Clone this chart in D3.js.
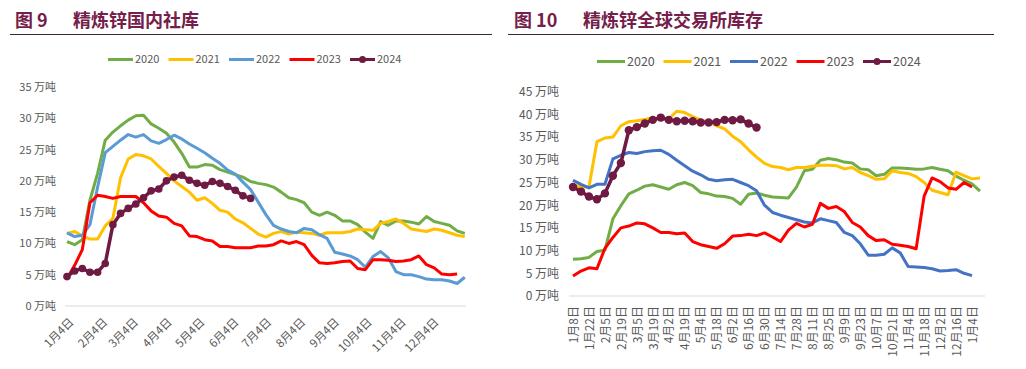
<!DOCTYPE html>
<html><head><meta charset="utf-8">
<script src="https://cdn.jsdelivr.net/npm/d3@7"></script>
<style>
body{margin:0;background:#fff;}
svg{display:block;}
text{font-family:"Noto Sans CJK SC","Microsoft YaHei",sans-serif;}
</style></head><body>
<svg id="c" width="1026" height="369"></svg>
<script>
// ---------- shared ----------
const years = ["2020","2021","2022","2023","2024"];
const yTickUnit = " 万吨";

// ---------- left chart: 精炼锌国内社库 (weekly, starting day-of-year 3, step 7 days) ----------
const leftTitleNo = "图 9";
const leftTitle = "精炼锌国内社库";
const leftTickLabels = ["1月4日","2月4日","3月4日","4月4日","5月4日","6月4日","7月4日","8月4日","9月4日","10月4日","11月4日","12月4日"];
const leftTickDays = [3,34,62,93,123,154,184,215,246,276,307,337];
const leftYTicks = [0,5,10,15,20,25,30,35];
const leftStartDay = 3, leftStepDays = 7;
const left2020 = [10.3,9.8,10.6,16.9,21.2,26.5,27.8,28.8,29.7,30.4,30.5,29.1,28.4,27.6,26.2,24.4,22.2,22.2,22.6,22.5,21.8,21.4,21.0,20.6,19.9,19.6,19.4,19.0,18.2,17.3,17.0,16.5,15.0,14.5,15.0,14.5,13.6,13.6,13.0,11.8,10.8,13.5,12.9,13.6,13.6,13.4,13.1,14.3,13.5,13.2,12.9,12.0,11.6];
const left2021 = [11.6,11.9,11.2,10.7,10.7,12.8,14.0,20.5,23.5,24.2,24.0,23.5,22.3,21.2,20.0,19.1,18.2,16.9,17.3,16.4,15.3,15.0,13.9,13.3,12.4,11.5,11.0,11.6,11.9,11.5,11.8,11.7,11.6,11.3,11.7,11.7,11.7,11.9,12.3,12.2,12.1,13.2,13.5,13.9,13.2,12.3,12.1,11.9,12.3,12.1,11.7,11.3,11.1];
const left2022 = [11.7,11.1,11.3,13.0,19.0,24.5,25.5,26.5,27.4,27.0,27.4,26.4,26.0,26.6,27.3,26.7,25.9,25.2,24.5,23.6,22.8,21.7,21.1,19.8,18.6,16.6,14.6,12.9,12.3,11.9,11.7,12.4,12.2,11.4,10.8,8.6,8.3,8.0,7.4,6.2,7.9,8.7,7.7,5.5,5.0,5.0,4.7,4.3,4.2,4.2,4.0,3.6,4.6];
const left2023 = [4.4,6.5,9.0,16.5,17.7,17.5,17.2,17.5,17.5,17.5,16.5,15.2,14.4,14.2,13.2,12.8,11.2,11.1,10.6,10.4,9.5,9.5,9.3,9.3,9.3,9.6,9.6,9.8,10.4,10.0,10.3,9.8,8.1,6.9,6.8,6.9,7.1,7.2,6.0,5.8,7.4,7.4,7.3,7.1,7.2,7.4,8.0,6.6,6.1,5.1,5.0,5.1];
const left2024 = [4.7,5.6,6.0,5.4,5.4,6.8,13.0,14.8,15.6,16.3,17.3,18.4,18.7,20.0,20.6,20.9,20.1,19.6,19.3,19.9,19.6,19.1,18.5,17.6,17.2];

// ---------- right chart: 精炼锌全球交易所库存 (every 5 trading days) ----------
const rightTitleNo = "图 10";
const rightTitle = "精炼锌全球交易所库存";
const rightTickLabels = ["1月8日","1月22日","2月5日","2月19日","3月5日","3月19日","4月2日","4月19日","5月4日","5月18日","6月2日","6月16日","6月30日","7月14日","7月28日","8月11日","8月25日","9月9日","9月23日","10月7日","10月21日","11月4日","11月18日","12月2日","12月16日","1月4日"];
const rightTickStep = 10;   // trading days between labels
const rightDataStep = 5;    // trading days between data points
const rightYTicks = [0,5,10,15,20,25,30,35,40,45];
const right2020 = [8.1,8.2,8.5,9.8,10.1,17.0,19.9,22.5,23.3,24.2,24.5,24.0,23.5,24.5,25.0,24.3,22.8,22.5,22.0,21.9,21.5,20.2,22.4,22.7,22.2,21.8,21.7,21.6,24.0,27.6,27.9,29.9,30.3,30.0,29.5,29.3,28.0,27.8,26.5,26.8,28.2,28.2,28.1,27.9,28.0,28.3,27.9,27.6,26.4,25.5,24.7,23.1];
const right2021 = [24.5,24.0,24.0,34.0,34.8,35.0,37.5,38.4,38.6,38.9,39.2,39.0,39.0,40.7,40.4,39.5,38.8,38.3,37.5,36.8,35.2,34.0,32.2,30.6,29.2,28.5,28.3,27.8,28.3,28.3,28.6,28.8,28.8,28.7,28.0,28.3,27.2,26.5,25.7,25.8,27.6,27.2,27.0,26.3,25.0,23.3,22.8,22.3,27.3,26.5,25.8,26.0];
const right2022 = [25.5,24.6,23.8,24.6,24.6,30.2,31.0,31.6,31.4,31.8,32.0,32.1,31.2,29.9,28.7,27.5,26.7,25.7,25.4,25.6,25.7,25.0,24.3,23.2,20.0,18.4,17.8,17.3,16.8,16.3,16.1,17.0,16.6,16.2,14.0,13.3,11.5,9.0,9.0,9.2,10.6,9.5,6.5,6.4,6.3,6.0,5.5,5.6,5.8,5.0,4.5];
const right2023 = [4.4,5.5,6.2,6.0,10.5,12.9,15.0,15.4,16.1,15.9,15.0,14.0,14.0,13.7,13.9,12.0,11.3,10.9,10.5,11.5,13.2,13.3,13.6,13.3,13.9,13.0,12.0,14.5,16.0,15.2,15.8,20.4,19.3,19.7,18.6,16.2,15.2,13.3,12.2,12.4,11.4,11.2,10.9,10.4,22.0,26.0,25.2,23.8,23.5,25.0,24.0];
const right2024 = [24.0,23.0,21.9,21.3,22.6,26.5,29.3,36.5,37.2,38.0,38.8,39.3,38.8,38.5,38.6,38.5,38.2,38.2,38.3,38.8,38.7,38.9,38.0,37.1];

// ---------- styles ----------
const leftColors  = ["#70AD47","#FFC000","#5B9BD5","#FF0000","#6E1A42"];
const rightColors = ["#70AD47","#FFC000","#4472C4","#FF0000","#6E1A42"];
const titleColor = "#74204A";
const textColor = "#595959";

const svg = d3.select("#c");

function drawTitle(no, title, xNo, xTitle, lineX1, lineX2) {
  svg.append("text").attr("x", xNo).attr("y", 27).attr("font-size", 18).attr("font-weight", 700)
     .attr("fill", titleColor).text(no);
  svg.append("text").attr("x", xTitle).attr("y", 27).attr("font-size", 18).attr("font-weight", 700)
     .attr("fill", titleColor).text(title);
  svg.append("line").attr("x1", lineX1).attr("x2", lineX2).attr("y1", 34.5).attr("y2", 34.5)
     .attr("stroke", "#3a2a2e").attr("stroke-width", 1.2);
}

function drawLegend(x0, y0, spacing, lineLen, colors, fontSize) {
  years.forEach((yr, i) => {
    const g = svg.append("g").attr("transform", `translate(${x0 + i * spacing},${y0})`);
    g.append("line").attr("x1", 0).attr("x2", lineLen).attr("y1", 0).attr("y2", 0)
      .attr("stroke", colors[i]).attr("stroke-width", 3);
    if (i === 4) g.append("circle").attr("cx", lineLen / 2).attr("cy", 0).attr("r", 3.5).attr("fill", colors[i]);
    g.append("text").attr("x", lineLen + 2).attr("y", 0).attr("dy", "0.35em")
      .attr("font-size", fontSize).attr("fill", textColor).text(yr);
  });
}

// ================= LEFT =================
drawTitle(leftTitleNo, leftTitle, 15, 73, 10, 492);
drawLegend(108, 59.5, 60.5, 25, leftColors, 11);

const lx = d3.scaleLinear().domain([leftTickDays[0], leftTickDays[leftTickDays.length - 1]]).range([67, 432]);
const ly = d3.scaleLinear().domain([0, 35]).range([306, 87]);

svg.append("line").attr("x1", 65).attr("x2", 466).attr("y1", ly(0)).attr("y2", ly(0))
   .attr("stroke", "#d9d9d9").attr("stroke-width", 1);

const lyAxis = svg.append("g").attr("transform", "translate(56,0)")
  .call(d3.axisLeft(ly).tickValues(leftYTicks).tickFormat(d => d + yTickUnit).tickSize(0).tickPadding(0));
lyAxis.select(".domain").remove();
lyAxis.selectAll("text").attr("font-size", 11).attr("fill", textColor)
  .style("font-family", '"Noto Sans CJK SC",sans-serif');

const lxAxis = svg.append("g").attr("transform", `translate(0,${ly(0)})`)
  .call(d3.axisBottom(lx).tickValues(leftTickDays).tickFormat((d, i) => leftTickLabels[i]).tickSize(0).tickPadding(0));
lxAxis.select(".domain").remove();
lxAxis.selectAll("text").attr("font-size", 11.5).attr("fill", textColor)
  .style("font-family", '"Noto Sans CJK SC",sans-serif')
  .attr("x", 0).attr("y", 0).attr("dy", "0.35em").attr("text-anchor", "end")
  .attr("transform", "translate(4,14) rotate(-45)");

const leftSeries = [left2020, left2021, left2022, left2023, left2024];
const lline = d3.line().x((d, i) => lx(leftStartDay + i * leftStepDays)).y(d => ly(d));
leftSeries.forEach((s, k) => {
  svg.append("path").datum(s).attr("d", lline).attr("fill", "none")
    .attr("stroke", leftColors[k]).attr("stroke-width", k === 4 ? 3.5 : 3).attr("stroke-linejoin", "round");
});
svg.append("g").selectAll("circle").data(left2024).join("circle")
  .attr("cx", (d, i) => lx(leftStartDay + i * leftStepDays)).attr("cy", d => ly(d))
  .attr("r", 3.8).attr("fill", leftColors[4]);

// ================= RIGHT =================
drawTitle(rightTitleNo, rightTitle, 514, 583, 508, 994);
drawLegend(597, 61.5, 66.5, 28, rightColors, 12.5);

const rTickIdx = rightTickLabels.map((d, i) => i * rightTickStep);
const rx = d3.scaleLinear().domain([0, rTickIdx[rTickIdx.length - 1]]).range([573, 972]);
const ry = d3.scaleLinear().domain([0, 45]).range([296, 91.7]);

svg.append("line").attr("x1", 569).attr("x2", 985).attr("y1", ry(0)).attr("y2", ry(0))
   .attr("stroke", "#d9d9d9").attr("stroke-width", 1);

const ryAxis = svg.append("g").attr("transform", "translate(559,0)")
  .call(d3.axisLeft(ry).tickValues(rightYTicks).tickFormat(d => d + yTickUnit).tickSize(0).tickPadding(0));
ryAxis.select(".domain").remove();
ryAxis.selectAll("text").attr("font-size", 12).attr("fill", textColor)
  .style("font-family", '"Noto Sans CJK SC",sans-serif');

const rxAxis = svg.append("g").attr("transform", `translate(0,${ry(0)})`)
  .call(d3.axisBottom(rx).tickValues(rTickIdx).tickFormat((d, i) => rightTickLabels[i]).tickSize(0).tickPadding(0));
rxAxis.select(".domain").remove();
rxAxis.selectAll("text").attr("font-size", 12).attr("fill", textColor)
  .style("font-family", '"Noto Sans CJK SC",sans-serif')
  .attr("x", 0).attr("y", 0).attr("dy", "0.35em").attr("text-anchor", "end")
  .attr("transform", "translate(0,10) rotate(-90)");

const rightSeries = [right2020, right2021, right2022, right2023, right2024];
const rline = d3.line().x((d, i) => rx(i * rightDataStep)).y(d => ry(d));
rightSeries.forEach((s, k) => {
  svg.append("path").datum(s).attr("d", rline).attr("fill", "none")
    .attr("stroke", rightColors[k]).attr("stroke-width", k === 4 ? 3.5 : 3).attr("stroke-linejoin", "round");
});
svg.append("g").selectAll("circle").data(right2024).join("circle")
  .attr("cx", (d, i) => rx(i * rightDataStep)).attr("cy", d => ry(d))
  .attr("r", 4.2).attr("fill", rightColors[4]);
</script>
</body></html>
